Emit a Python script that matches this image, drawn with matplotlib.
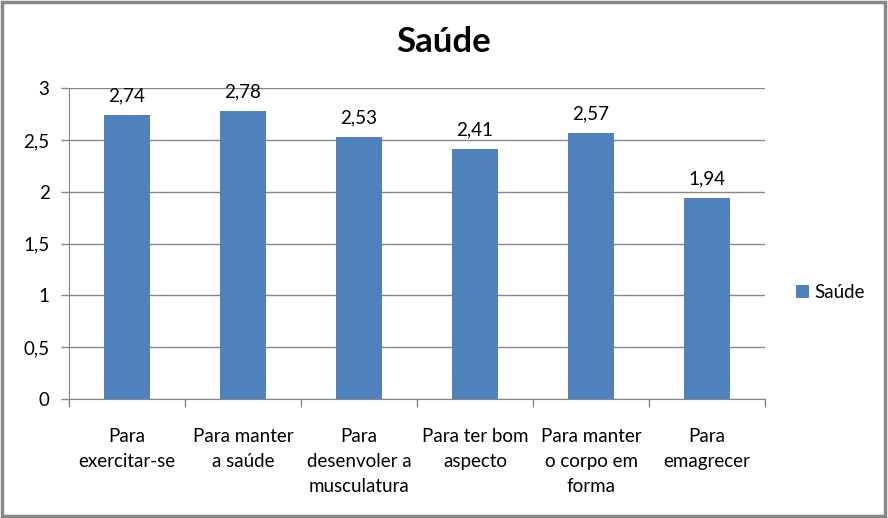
import matplotlib.pyplot as plt
from matplotlib.patches import Rectangle

categories = [
    "Para\nexercitar-se",
    "Para manter\na saúde",
    "Para\ndesenvoler a\nmusculatura",
    "Para ter bom\naspecto",
    "Para manter\no corpo em\nforma",
    "Para\nemagrecer",
]
values = [2.74, 2.78, 2.53, 2.41, 2.57, 1.94]
yticks = [0, 0.5, 1, 1.5, 2, 2.5, 3]
ytick_labels = ["0", "0,5", "1", "1,5", "2", "2,5", "3"]

plt.rcParams["font.family"] = ["Lato", "DejaVu Sans"]

fig = plt.figure(figsize=(8.88, 5.18), dpi=100)
ax = fig.add_axes([0.0777, 0.2297, 0.7838, 0.6003])

x = list(range(len(categories)))
bars = ax.bar(x, values, width=0.4, color="#4F81BD", label="Saúde", zorder=3)

for xi, v in zip(x, values):
    ax.text(xi, v + 0.1, f"{v:.2f}".replace(".", ","), ha="center", va="bottom",
            fontsize=13.5, color="black")

ax.set_xlim(-0.5, len(categories) - 0.5)
ax.set_ylim(0, 3)
ax.set_yticks(yticks)
ax.set_yticklabels(ytick_labels, fontsize=13.5)
ax.yaxis.grid(True, color="#868686", linewidth=1, zorder=0)

# categorias no meio, ticks nas fronteiras
ax.set_xticks(x)
ax.set_xticklabels(categories, fontsize=13.5, linespacing=1.55)
ax.tick_params(axis="x", length=0, pad=21)
ax.set_xticks([i - 0.5 for i in range(len(categories) + 1)], minor=True)
ax.tick_params(axis="x", which="minor", length=6, color="#868686", width=1)
ax.tick_params(axis="y", length=6, color="#868686", width=1, pad=8)

for s in ["top", "right"]:
    ax.spines[s].set_visible(False)
for s in ["left", "bottom"]:
    ax.spines[s].set_color("#868686")

fig.text(0.5, 0.918, "Saúde", ha="center", va="center", fontsize=25, fontweight="bold")

fig.legend(loc="center left", bbox_to_anchor=(0.877, 0.436), frameon=False, fontsize=13.5,
           handlelength=0.7, handleheight=0.7, handletextpad=0.3)

fig.patches.append(Rectangle((0.002, 0.003), 0.995, 0.994, transform=fig.transFigure,
                             fill=False, edgecolor="#878787", linewidth=2.5))

fig.savefig("out.png", dpi=100)
